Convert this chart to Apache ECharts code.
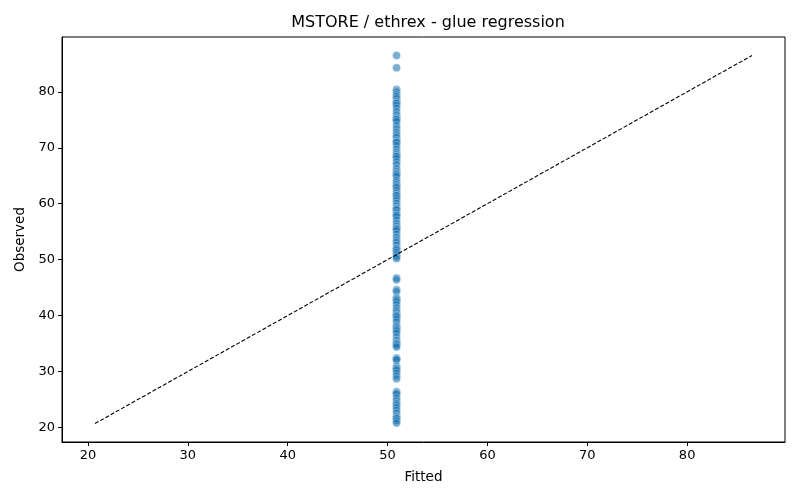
<!DOCTYPE html>
<html>
<head>
<meta charset="utf-8">
<script src="https://cdn.jsdelivr.net/npm/echarts@6/dist/echarts.min.js"></script>
<style>html,body{margin:0;padding:0;background:#fff}#c{width:800px;height:500px}</style>
</head>
<body>
<div id="c"></div>
<script>
const titleText = 'MSTORE / ethrex - glue regression';
const fittedValue = 50.9;
const observed = [
  86.5, 84.3, 80.4, 80.0, 79.5, 79.2, 78.8, 78.3, 78.0, 78.0, 77.6, 77.1, 76.5, 75.9, 75.4, 75.1, 75.1, 74.7, 74.0,
  73.4, 72.8, 72.3, 71.9, 71.3, 71.0, 71.0, 70.4, 69.8, 69.2, 68.8, 68.5, 68.5, 68.1, 67.5, 67.0, 66.3,
  65.8, 65.4, 65.2, 64.9, 64.2, 63.8, 63.4, 63.1, 62.9, 62.4, 61.9, 61.5, 61.5, 61.0, 60.6, 60.1, 59.6,
  59.2, 59.0, 58.9, 58.4, 58.0, 58.0, 57.7, 57.1, 56.5, 56.0, 55.6, 55.5, 55.2, 54.6, 54.0, 53.5, 53.1,
  52.6, 52.0, 52.0, 51.7, 51.3, 50.9, 50.5, 50.2,
  46.7, 46.4, 44.6, 44.3, 43.2, 43.0, 42.8, 42.5, 42.0, 41.4, 40.9, 40.5, 40.1, 40.0, 39.8, 39.4,
  38.9, 38.2, 37.9, 37.6, 37.3, 36.9, 36.2, 35.6, 35.1, 35.0, 34.7, 34.4,
  32.4, 32.2, 32.1, 31.0, 30.6, 30.5, 30.2, 29.7, 29.2, 28.7,
  26.4, 26.1, 26.0, 25.3, 24.8, 24.3, 24.0, 23.6, 23.1, 22.6, 22.0, 21.7, 21.6, 21.2, 20.8
];
const identityLine = [20.7, 86.5];
const tickValues = [20, 30, 40, 50, 60, 70, 80];
const axisMin = 17.4, axisMax = 89.8;

const font = 'DejaVu Sans';
const chart = echarts.init(document.getElementById('c'), null, {renderer: 'canvas'});
const scatterData = observed.map(v => [fittedValue, v]);
const lineData = identityLine.map(v => [v, v]);

function axis(name, gap, rotate) {
  return {
    type: 'value', min: axisMin, max: axisMax,
    name: name, nameLocation: 'middle', nameGap: gap, nameRotate: rotate,
    nameTextStyle: {fontFamily: font, fontSize: 13.5, color: '#000'},
    axisLine: {show: true, onZero: false, lineStyle: {color: '#000', width: 1}},
    axisTick: {show: true, length: 4, lineStyle: {color: '#000'}, customValues: tickValues},
    axisLabel: {fontFamily: font, fontSize: 13, color: '#000', margin: 7, customValues: tickValues},
    splitLine: {show: false}
  };
}

chart.setOption({
  animation: false,
  title: {
    text: titleText, left: 423, top: 10, textAlign: 'center',
    textStyle: {fontFamily: font, fontSize: 16, fontWeight: 'normal', color: '#000'}
  },
  grid: {left: 62, right: 15, top: 37, bottom: 58, show: true, borderColor: '#000', borderWidth: 1, backgroundColor: 'transparent'},
  xAxis: axis('Fitted', 28, 0),
  yAxis: axis('Observed', 33, 90),
  series: [
    {
      type: 'scatter', data: scatterData, symbolSize: 8,
      itemStyle: {color: 'rgba(31,119,180,0.75)', borderColor: 'rgba(255,255,255,0.8)', borderWidth: 0.5}
    },
    {
      type: 'line', data: lineData, symbol: 'none',
      lineStyle: {color: '#000', width: 1.1, type: [4, 2]}
    }
  ]
});
</script>
</body>
</html>
